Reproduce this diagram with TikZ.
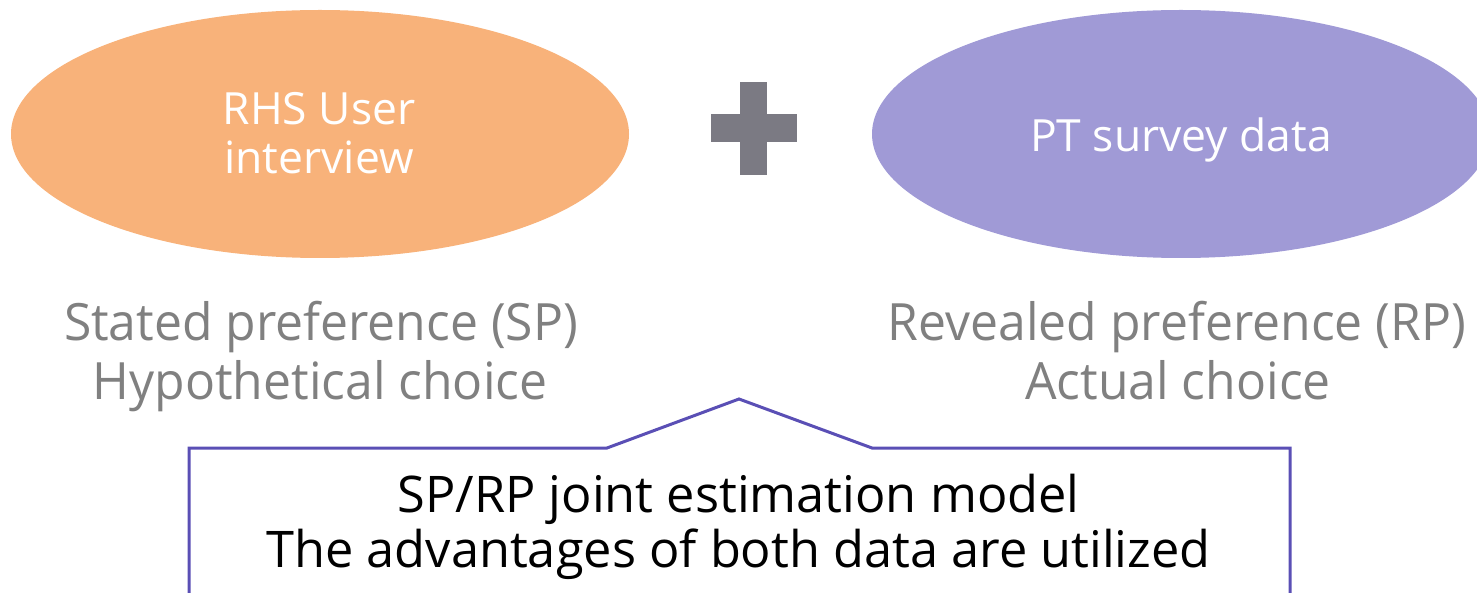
\documentclass[tikz,border=0pt]{standalone}
\usepackage{fontspec}
\setmainfont{Open Sans}
\newfontfamily\grayfont[FakeStretch=0.97]{Open Sans}
\usetikzlibrary{shapes.geometric}
\definecolor{orangefill}{RGB}{248,178,122}
\definecolor{purplefill}{RGB}{160,154,214}
\definecolor{plusgray}{RGB}{123,122,131}
\definecolor{textgray}{RGB}{128,128,128}
\definecolor{boxline}{RGB}{90,79,181}
\tikzset{
  blob/.style={ellipse, minimum width=618pt, minimum height=248pt, inner sep=0pt},
  blobtext/.style={text=white, anchor=base, inner sep=0pt, font=\fontsize{44.4}{50}\selectfont},
  graytext/.style={text=textgray, anchor=base, inner sep=0pt, font=\grayfont\fontsize{51.4}{58}\selectfont},
  boxtext/.style={text=black, anchor=base, inner sep=0pt, font=\fontsize{50.5}{56}\selectfont},
  calloutline/.style={draw=boxline, line width=3pt, line join=miter}
}
\begin{document}
\begin{tikzpicture}[x=1pt,y=-1pt]
\useasboundingbox (0,0) rectangle (1477,593);
\clip (0,0) rectangle (1477,593);
\node[blob, fill=orangefill] (sp) at (320,134) {};
\node[blob, fill=purplefill] (rp) at (1181,134) {};
\node[blobtext] (sp1) at (319,125) {RHS User};
\node[blobtext] (sp2) at (319,174) {interview};
\node[blobtext] (rp1) at (1181,152) {PT survey data};
\fill[plusgray] (740,82) rectangle (767,175);
\fill[plusgray] (711,114) rectangle (797,142);
\node[graytext] (spt1) at (321,341) {Stated preference (SP)};
\node[graytext] (spt2) at (320,399) {Hypothetical choice};
\node[graytext] (rpt1) at (1177,341) {Revealed preference (RP)};
\node[graytext] (rpt2) at (1178,399) {Actual choice};
\coordinate (bl) at (189,610);
\coordinate (tl) at (189,448);
\coordinate (p1) at (607,448);
\coordinate (apex) at (739,399);
\coordinate (p2) at (872,448);
\coordinate (tr) at (1290,448);
\coordinate (br) at (1290,610);
\draw[calloutline] (bl) -- (tl) -- (p1) -- (apex) -- (p2) -- (tr) -- (br);
\node[boxtext] (model1) at (738.5,512) {SP/RP joint estimation model};
\node[boxtext] (model2) at (738.5,567) {The advantages of both data are utilized};
\end{tikzpicture}
\end{document}
